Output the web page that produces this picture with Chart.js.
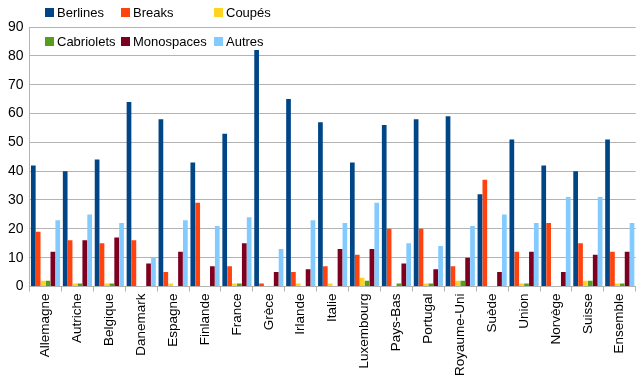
<!DOCTYPE html>
<html lang="fr">
<head>
<meta charset="utf-8">
<script src="https://cdn.jsdelivr.net/npm/chart.js@4/dist/chart.umd.min.js"></script>
<style>
    html, body { margin: 0; padding: 0; background: #fff; }
    #wrap { position: relative; width: 638px; height: 383px; }
    #legend { position: absolute; left: 45px; top: 5px; font: 13px "Liberation Sans", Arial, sans-serif; color: #000; }
    .item { position: absolute; white-space: nowrap; line-height: 16px; }
    .item span { display: inline-block; width: 9px; height: 9px; margin-right: 3px; vertical-align: 0px; }
</style>
</head>
<body>
<div id="wrap">
    <canvas id="chart" width="638" height="383"></canvas>
    <div id="legend"></div>
</div>
<script>
// ========== DONNÉES ==========
const pays = ['Allemagne', 'Autriche', 'Belgique', 'Danemark', 'Espagne', 'Finlande', 'France', 'Grèce',
    'Irlande', 'Italie', 'Luxembourg', 'Pays-Bas', 'Portugal', 'Royaume-Uni', 'Suède', 'Union',
    'Norvège', 'Suisse', 'Ensemble'];

const berlines   = [42, 40, 44, 64, 58, 43, 53, 82, 65, 57, 43, 56, 58, 59, 32, 51, 42, 40, 51];
const breaks     = [19, 16, 15, 16, 5, 29, 7, 1, 5, 7, 11, 20, 20, 7, 37, 12, 22, 15, 12];
const coupes     = [2, 1, 1, 0, 1, 0, 1, 0, 1, 1, 3, 0, 1, 2, 0, 1, 0, 2, 1];
const cabriolets = [2, 1, 1, 0, 0, 0, 1, 0, 0, 0, 2, 1, 1, 2, 0, 1, 0, 2, 1];
const monospaces = [12, 16, 17, 8, 12, 7, 15, 5, 6, 13, 13, 8, 6, 10, 5, 12, 5, 11, 12];
const autres     = [23, 25, 22, 10, 23, 21, 24, 13, 23, 22, 29, 15, 14, 21, 25, 22, 31, 31, 22];

const yTicks = [0, 10, 20, 30, 40, 50, 60, 70, 80, 90];

const COLORS = {
    berlines: '#004586',
    breaks: '#ff420e',
    coupes: '#ffd320',
    cabriolets: '#579d1c',
    monospaces: '#7e0021',
    autres: '#83caff'
};

const FONT = '"Liberation Sans", Arial, sans-serif';

function serie(label, data, color) {
    return {
        label: label,
        data: data,
        backgroundColor: color,
        borderWidth: 0,
        categoryPercentage: 0.92,
        barPercentage: 0.96
    };
}

const datasets = [
    serie('Berlines', berlines, COLORS.berlines),
    serie('Breaks', breaks, COLORS.breaks),
    serie('Coupés', coupes, COLORS.coupes),
    serie('Cabriolets', cabriolets, COLORS.cabriolets),
    serie('Monospaces', monospaces, COLORS.monospaces),
    serie('Autres', autres, COLORS.autres)
];

// ========== LÉGENDE (2 lignes x 3 colonnes) ==========
const legendCols = [0, 76, 169];
const legendRows = [0, 29];
const legend = document.getElementById('legend');
datasets.forEach(function (ds, i) {
    const el = document.createElement('div');
    el.className = 'item';
    el.style.left = legendCols[i % 3] + 'px';
    el.style.top = legendRows[Math.floor(i / 3)] + 'px';
    el.innerHTML = '<span style="background:' + ds.backgroundColor + '"></span>' + ds.label;
    legend.appendChild(el);
});

// ========== GRAPHIQUE ==========
new Chart(document.getElementById('chart'), {
    type: 'bar',
    data: { labels: pays, datasets: datasets },
    options: {
        responsive: false,
        animation: false,
        layout: { padding: { top: 27, right: 1, left: 2, bottom: 5 } },
        plugins: {
            legend: { display: false },
            tooltip: { enabled: false }
        },
        scales: {
            x: {
                ticks: {
                    minRotation: 90,
                    maxRotation: 90,
                    autoSkip: false,
                    color: '#000',
                    padding: 2,
                    font: { family: FONT, size: 13.5 }
                },
                grid: {
                    offset: true,
                    drawOnChartArea: false,
                    drawTicks: true,
                    tickLength: 5,
                    color: '#b3b3b3'
                },
                border: { color: '#b3b3b3' }
            },
            y: {
                min: 0,
                max: 90,
                afterBuildTicks: function (axis) {
                    axis.ticks = yTicks.map(v => ({ value: v }));
                },
                ticks: {
                    color: '#000',
                    padding: 6,
                    font: { family: FONT, size: 14 }
                },
                grid: {
                    color: '#b3b3b3',
                    tickLength: 0
                },
                border: { color: '#b3b3b3' }
            }
        }
    }
});
</script>
</body>
</html>
